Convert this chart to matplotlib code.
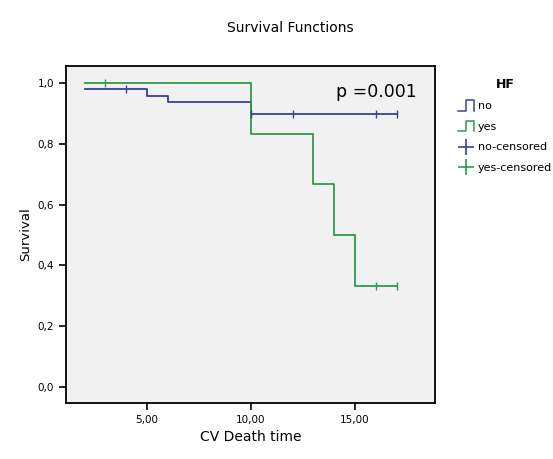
import matplotlib
matplotlib.use("Agg")
import matplotlib.pyplot as plt
from matplotlib.lines import Line2D
from matplotlib.legend_handler import HandlerBase

# Kaplan-Meier step data
no_times = [2, 5, 6, 10, 17]
no_surv = [0.979, 0.958, 0.938, 0.896, 0.896]
no_cens_t = [4, 10, 12, 16, 17]
no_cens_s = [0.979, 0.896, 0.896, 0.896, 0.896]

yes_times = [2, 10, 13, 14, 15, 17]
yes_surv = [1.0, 0.833, 0.667, 0.5, 0.333, 0.333]
yes_cens_t = [3, 16, 17]
yes_cens_s = [1.0, 0.333, 0.333]

yticks = [0.0, 0.2, 0.4, 0.6, 0.8, 1.0]
ytick_labels = ["0,0", "0,2", "0,4", "0,6", "0,8", "1,0"]
xticks = [5, 10, 15]
xtick_labels = ["5,00", "10,00", "15,00"]

c_no = "#3b3f96"
c_yes = "#2e9a4e"

fig = plt.figure(figsize=(5.53, 4.59), dpi=100)
fig.patch.set_facecolor("white")
ax = fig.add_axes([66/553, 1-403/459, (435-66)/553, (403-66)/459])
ax.set_facecolor("#f1f1f1")

ax.step(no_times, no_surv, where="post", color=c_no, lw=1.3)
ax.step(yes_times, yes_surv, where="post", color=c_yes, lw=1.3)
ax.plot(no_cens_t, no_cens_s, ls="none", marker="|", ms=6, mew=1.0, color=c_no)
ax.plot(yes_cens_t, yes_cens_s, ls="none", marker="|", ms=6, mew=1.0, color=c_yes)

ax.set_xlim(1.1, 18.85)
ax.set_ylim(-0.052, 1.055)
ax.set_yticks(yticks)
ax.set_yticklabels(ytick_labels)
ax.set_xticks(xticks)
ax.set_xticklabels(xtick_labels)
ax.tick_params(direction="out", length=5, width=1.2, labelsize=7.5, color="black")
for s in ax.spines.values():
    s.set_linewidth(1.3)

ax.set_xlabel("CV Death time", fontsize=10)
ax.set_ylabel("Survival", fontsize=9.5)
ax.text(0.95, 0.95, "p =0.001", transform=ax.transAxes, ha="right", va="top", fontsize=12.5)
fig.text(290/553, 1-28/459, "Survival Functions", ha="center", va="center", fontsize=10)


class StepHandler(HandlerBase):
    def create_artists(self, legend, orig_handle, xdescent, ydescent, width, height, fontsize, trans):
        x0, x1 = -xdescent, -xdescent + width
        y0, y1 = -ydescent - height * 0.2, -ydescent + height * 1.2
        xm = x0 + width * 0.5
        xs = [x0, xm, xm, x1, x1]
        ys = [y0, y0, y1, y1, y0]
        l = Line2D(xs, ys, color=orig_handle.get_color(), lw=1.1, transform=trans)
        return [l]


h_no = Line2D([], [], color=c_no)
h_yes = Line2D([], [], color=c_yes)
h_nc = Line2D([], [], ls="none", marker="+", ms=11, mew=1.2, color=c_no)
h_yc = Line2D([], [], ls="none", marker="+", ms=11, mew=1.2, color=c_yes)
leg = fig.legend([h_no, h_yes, h_nc, h_yc], ["no", "yes", "no-censored", "yes-censored"],
                 handler_map={h_no: StepHandler(), h_yes: StepHandler()},
                 title="HF", loc="upper left", bbox_to_anchor=(450/553, 1-70/459),
                 frameon=False, fontsize=8, title_fontsize=9, handlelength=1.5,
                 handletextpad=0.3, labelspacing=0.95, borderpad=0.2)
leg.get_title().set_fontweight("bold")

fig.savefig("out.png", dpi=100)
